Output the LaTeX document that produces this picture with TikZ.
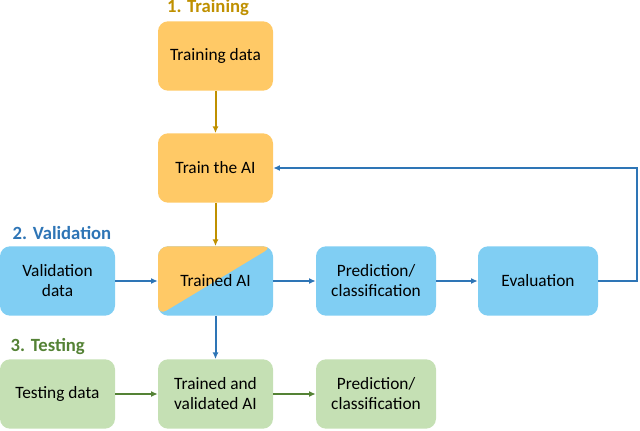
\documentclass[tikz,border=0pt]{standalone}
\usepackage{fontspec}
\setmainfont{Carlito}
\usetikzlibrary{arrows.meta}
\definecolor{trainline}{RGB}{191,144,0}
\definecolor{trainfill}{RGB}{255,201,102}
\definecolor{validline}{RGB}{46,117,182}
\definecolor{validfill}{RGB}{128,206,243}
\definecolor{testline}{RGB}{84,130,53}
\definecolor{testfill}{RGB}{197,224,180}
\tikzset{
  box/.style={rounded corners=7.5pt, minimum width=86.25pt, minimum height=52pt,
    align=center, text=black, font=\fontsize{13}{15}\selectfont},
  widebox/.style={box, minimum width=90pt},
  phase/.style={font=\fontsize{14}{16}\selectfont\bfseries},
  link/.style={line width=1.5pt, -{Latex[length=5pt,width=4.5pt]}},
}

\begin{document}
\begin{tikzpicture}[x=0.75pt,y=-0.75pt]
	%%%%% START %%%%%
	\useasboundingbox (0,0) rectangle (640,430);
	
	\node[phase, text=trainline] (ttrain) at (208,8) {1. Training};
	\node[phase, text=validline, anchor=west] (tvalid) at (8,233) {2. Validation};
	\node[phase, text=testline, anchor=west] (ttest) at (6,347) {3. Testing};
	
	\node[box, fill=trainfill] (tdata) at (215.5,56) {Training data};
	\node[box, fill=trainfill] (train) at (215.5,168) {Train the AI};
	
	\node[box, fill=validfill] (vdata) at (57.5,281) {Validation\\data};
	\node[box, fill=validfill, path picture={
	  \fill[trainfill] (path picture bounding box.south west) -- (path picture bounding box.north east)
	    -- (path picture bounding box.north west) -- cycle;}] (trained) at (215.5,281) {Trained AI};
	\node[widebox, fill=validfill] (vpred) at (376,281) {Prediction/\\classification};
	\node[widebox, fill=validfill] (eval) at (538,281) {Evaluation};
	
	\node[box, fill=testfill] (tsdata) at (57.5,394) {Testing data};
	\node[box, fill=testfill] (tvai) at (215.5,394) {Trained and\\validated AI};
	\node[widebox, fill=testfill] (tpred) at (376,394) {Prediction/\\classification};
	
	\coordinate (loop) at (637,168);
	
	% training
	\draw[link, trainline] (tdata) -- (train);
	\draw[link, trainline] (train) -- (trained);
	
	% validation
	\draw[link, validline] (vdata) -- (trained);
	\draw[link, validline] (trained) -- (vpred);
	\draw[link, validline] (vpred) -- (eval);
	\draw[link, validline] (eval.east) -| (loop) |- (train.east);
	\draw[link, validline] (trained) -- (tvai);
	
	% testing
	\draw[link, testline] (tsdata) -- (tvai);
	\draw[link, testline] (tvai) -- (tpred);
	
	%%%%% END %%%%%
\end{tikzpicture}
\end{document}
